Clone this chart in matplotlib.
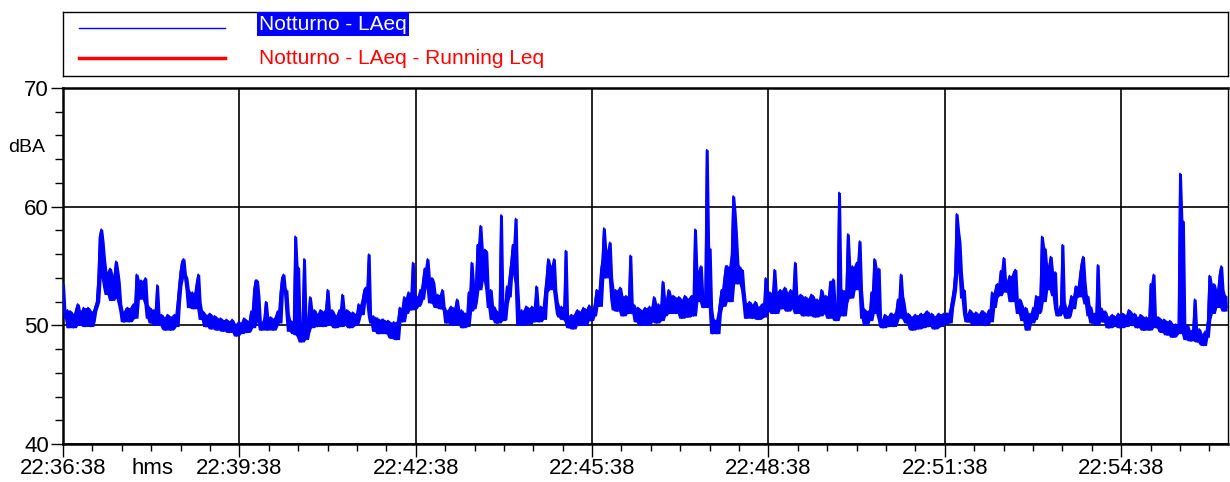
import numpy as np
import pandas as pd
import matplotlib
matplotlib.use("Agg")
import matplotlib.pyplot as plt
from matplotlib.ticker import FixedLocator, MultipleLocator
from matplotlib.lines import Line2D
import matplotlib.transforms as mtransforms

plt.rcParams['font.family'] = ['Liberation Sans', 'DejaVu Sans']

# ---- data: LAeq (dBA), starting 22:36:38 ----
# samples every 3 s (t = 0, 3, 6, ...)
laeq_a = [
    53.5, 50.6, 49.8, 51.0, 50.1, 51.8, 50.4, 51.5, 50.0, 51.3,
    50.4, 51.6, 54.0, 58.1, 55.5, 52.6, 54.8, 52.3, 55.4, 53.6,
    51.2, 50.3, 51.5, 50.5, 51.8, 54.3, 52.2, 53.6, 54.0, 50.6,
    50.2, 51.3, 53.4, 50.0, 50.7, 49.6, 50.8, 49.7, 50.9, 52.0,
    54.6, 55.6, 54.0, 51.5, 52.8, 52.3, 54.3, 50.5, 51.0, 49.9,
    51.0, 50.1, 50.7, 49.9, 50.5, 49.7, 50.4, 49.6, 50.2, 49.1,
    50.3, 49.6, 50.5, 49.5, 51.2, 53.0, 53.8, 50.3, 49.7, 52.0,
    49.8, 50.6, 49.9, 51.2, 52.8, 54.3, 53.0, 49.5, 50.0, 57.5,
    54.9, 48.6, 55.6, 49.4, 52.4, 50.2, 51.0, 50.0, 51.2, 50.3,
    53.0, 50.3, 51.0, 49.9, 51.3, 52.6, 50.1, 51.2, 49.9, 51.0,
    50.4, 51.4, 52.3, 53.2, 56.0, 50.2, 49.5, 50.6, 49.4, 50.5,
    49.3, 50.3, 48.9, 49.9, 50.4, 51.4, 52.4, 51.7, 52.5, 55.3,
    52.5, 51.8, 52.2, 54.8, 55.6, 51.9, 53.6, 51.5, 52.0, 53.0,
    51.3, 50.4, 51.6, 50.2, 52.2, 50.3, 49.8, 51.0, 52.8, 55.3,
    52.0, 56.8, 58.4, 54.2, 56.2, 51.5, 50.5, 51.3, 50.2, 59.3,
    50.5, 53.3, 54.3, 56.8, 59.0, 50.0, 51.3, 50.3, 51.5, 50.5,
    51.0, 53.3, 50.3, 51.4, 52.8, 55.6, 55.0, 55.6, 52.0, 50.7,
    50.5, 56.3, 49.8, 50.9, 50.0, 51.3, 50.3, 51.5, 50.5, 51.7,
    51.3, 52.0, 52.8, 54.6, 58.2, 56.3, 57.0, 52.2, 53.0, 51.3,
    52.5, 51.0, 52.2, 55.9, 51.8, 50.3, 51.4, 50.2, 51.5, 50.0,
    51.0, 52.4, 50.2, 51.2, 53.7, 51.0, 53.0, 51.5, 52.4, 51.2,
    52.2, 51.0, 52.3, 50.8, 52.5, 58.1, 53.4, 55.0, 51.5, 64.8,
    56.5, 49.3, 49.9, 51.0, 53.0, 54.0, 55.0, 52.0, 60.9, 57.5,
    55.0, 54.7, 51.9, 50.8, 51.8, 50.7, 51.6, 50.6, 51.8, 54.0,
    51.5, 52.0, 54.7, 51.5, 53.0, 51.8, 52.8, 51.5, 52.5, 55.3,
    51.5, 52.6, 50.8, 52.3, 51.0, 52.5, 50.7, 51.8, 53.0, 51.0,
    51.5, 53.7, 53.9, 50.4, 61.2, 53.0, 51.9, 57.7, 52.3, 54.3,
    55.3, 57.1, 50.6, 50.0, 51.2, 52.8, 55.6, 51.0, 50.5, 49.8,
    50.8, 49.9, 51.0, 50.2, 52.2, 54.3, 51.9, 50.2, 50.8, 49.6,
    50.9, 49.7, 51.0, 50.1, 51.2, 50.0, 50.8, 49.8, 51.0, 50.2,
    50.1, 51.0, 51.5, 53.0, 59.4, 57.0, 52.3, 51.0, 50.3, 51.1,
    50.0, 51.0, 50.2, 51.2, 50.0, 51.3, 52.8, 52.3, 53.5, 54.6,
    55.7, 52.8, 54.2, 53.3, 54.7, 51.0, 51.8, 50.6, 49.6, 51.0,
    51.5, 52.5, 51.2, 57.5, 56.5, 53.0, 55.8, 52.5, 51.4, 51.0,
    56.8, 51.5, 50.8, 52.5, 52.3, 53.2, 54.3, 55.8, 51.8, 50.8,
    50.2, 51.0, 55.1, 51.5, 50.3, 50.8, 49.8, 50.9, 50.0, 51.0,
    49.8, 50.9, 50.1, 51.2, 50.0, 50.7, 49.9, 50.8, 49.6, 50.5,
    53.5, 54.3, 49.8, 50.6, 49.4, 50.4, 49.2, 50.2, 49.1, 50.0,
    62.8, 58.8, 48.8, 49.6, 48.7, 52.2, 48.6, 49.3, 48.3, 49.0,
    54.2, 51.0, 52.0, 53.0, 55.0, 51.2, 51.5,
]
# samples in between (t = 1.5, 4.5, 7.5, ...)
laeq_b = [
    51.0, 51.3, 51.2, 49.8, 51.4, 50.0, 51.2, 49.9, 51.5, 49.9,
    51.2, 52.0, 57.5, 57.0, 53.2, 54.5, 52.1, 54.2, 54.6, 51.8,
    50.3, 51.4, 50.3, 51.6, 50.6, 53.0, 53.8, 52.4, 51.8, 51.5,
    51.2, 50.0, 51.0, 50.9, 49.7, 50.9, 49.6, 50.8, 49.9, 53.4,
    55.4, 54.3, 53.0, 52.4, 51.4, 53.6, 52.0, 51.2, 49.9, 50.9,
    49.7, 50.8, 49.6, 50.6, 49.5, 50.5, 49.4, 50.5, 49.5, 50.2,
    49.3, 50.6, 49.4, 50.4, 49.8, 53.8, 52.5, 49.6, 50.6, 49.6,
    50.7, 49.6, 50.8, 50.2, 54.0, 52.8, 51.0, 50.4, 49.3, 49.2,
    49.0, 50.2, 48.8, 50.6, 49.8, 51.3, 49.9, 51.3, 49.9, 51.4,
    50.0, 51.3, 49.8, 50.9, 49.9, 50.0, 51.3, 49.8, 51.1, 50.0,
    51.8, 50.9, 53.0, 52.0, 50.8, 50.8, 50.6, 49.3, 50.5, 49.4,
    50.4, 49.0, 50.3, 48.8, 51.5, 50.3, 51.0, 52.8, 51.3, 51.4,
    51.6, 53.0, 53.8, 53.2, 53.6, 54.0, 51.8, 52.6, 51.4, 51.6,
    50.2, 51.4, 50.0, 51.5, 50.1, 51.3, 51.0, 49.9, 51.2, 51.4,
    53.5, 53.0, 53.8, 56.4, 53.0, 53.0, 51.6, 50.2, 51.2, 50.4,
    51.8, 52.4, 55.4, 55.5, 53.5, 50.8, 50.0, 51.6, 50.1, 51.6,
    50.3, 51.0, 51.6, 50.5, 54.0, 53.0, 53.5, 53.0, 51.0, 51.6,
    50.8, 50.3, 50.8, 49.7, 51.1, 50.0, 51.2, 50.0, 51.4, 50.4,
    50.8, 53.0, 51.6, 55.5, 54.0, 54.2, 54.0, 51.3, 51.2, 53.2,
    50.8, 52.5, 51.0, 51.0, 51.0, 51.5, 50.0, 51.3, 50.2, 51.6,
    50.3, 50.6, 51.8, 50.4, 50.8, 52.2, 51.0, 52.5, 51.0, 52.4,
    50.6, 52.5, 50.7, 52.4, 50.8, 52.0, 54.6, 52.0, 52.5, 54.0,
    51.5, 50.5, 49.3, 52.0, 51.6, 55.0, 53.0, 56.0, 59.5, 53.5,
    53.5, 53.0, 50.6, 52.0, 50.6, 52.0, 50.5, 51.7, 50.7, 51.2,
    52.8, 51.0, 51.0, 52.8, 51.4, 53.2, 51.2, 53.0, 51.4, 51.0,
    52.5, 51.0, 52.4, 50.8, 52.6, 51.0, 52.2, 50.8, 51.2, 52.5,
    50.6, 51.2, 51.0, 51.8, 51.0, 50.8, 53.0, 52.5, 55.0, 53.0,
    54.5, 53.0, 51.4, 51.0, 50.4, 51.8, 53.5, 54.8, 49.9, 50.9,
    50.0, 51.0, 49.9, 51.2, 50.6, 52.5, 50.5, 51.0, 49.7, 50.8,
    49.8, 50.9, 49.8, 51.1, 49.9, 51.0, 49.7, 50.9, 49.9, 51.0,
    51.0, 50.2, 52.2, 54.5, 58.0, 54.5, 53.0, 50.3, 51.3, 50.2,
    51.1, 50.1, 51.2, 50.0, 51.0, 50.3, 51.5, 53.4, 52.5, 53.8,
    53.8, 53.5, 52.0, 54.5, 52.0, 52.2, 50.4, 51.5, 50.6, 50.2,
    50.5, 51.0, 52.5, 52.0, 54.0, 55.0, 53.5, 54.5, 50.8, 51.8,
    52.0, 50.6, 51.8, 51.4, 53.3, 52.4, 55.2, 53.8, 52.5, 51.6,
    50.9, 50.0, 51.2, 50.3, 51.2, 49.8, 50.8, 49.9, 50.8, 49.8,
    51.0, 49.9, 51.3, 50.0, 51.0, 49.8, 50.9, 49.6, 50.7, 49.6,
    50.0, 50.2, 50.7, 49.5, 50.5, 49.2, 50.4, 49.0, 50.1, 49.3,
    50.2, 49.5, 50.0, 48.7, 49.7, 49.0, 49.7, 48.4, 49.5, 50.5,
    52.5, 53.5, 51.5, 54.3, 53.0, 52.5,
]
t_a = np.arange(len(laeq_a)) * 3.0
t_b = np.arange(len(laeq_b)) * 3.0 + 1.5
t_seconds = np.concatenate([t_a, t_b])
laeq = np.concatenate([laeq_a, laeq_b])
order = np.argsort(t_seconds)
t_seconds, laeq = t_seconds[order], laeq[order]

# the dense trace reads as a ribbon: span of neighbouring samples
ser = pd.Series(laeq)
band_lo = ser.rolling(5, center=True, min_periods=1).min().to_numpy()
band_hi = ser.rolling(3, center=True, min_periods=1).max().to_numpy()

x_major_ticks = [0, 180, 360, 540, 720, 900, 1080]
x_major_labels = ["22:36:38", "22:39:38", "22:42:38", "22:45:38",
                  "22:48:38", "22:51:38", "22:54:38"]
y_major_ticks = [40, 50, 60, 70]
legend_labels = ["Notturno - LAeq", "Notturno - LAeq - Running Leq"]

W, H = 1230, 482
fig = plt.figure(figsize=(W / 100, H / 100), dpi=100)

# main axes
L, R, T, B = 63, 1228, 88, 444
ax = fig.add_axes([L / W, 1 - B / H, (R - L) / W, (B - T) / H])
ax.fill_between(t_seconds, band_lo, band_hi, color='#0000FF', lw=0, zorder=3)
ax.plot(t_seconds, laeq, color='#0000FF', lw=1.2, zorder=3)
ax.set_xlim(0, 1189)
ax.set_ylim(40, 70)

ax.xaxis.set_major_locator(FixedLocator(x_major_ticks))
ax.set_xticklabels(x_major_labels)
ax.xaxis.set_minor_locator(MultipleLocator(30))
ax.yaxis.set_major_locator(FixedLocator(y_major_ticks))
ax.yaxis.set_minor_locator(MultipleLocator(2))

ax.grid(which='major', color='black', lw=1.2, zorder=1)
for s in ax.spines.values():
    s.set_linewidth(1.8)
    s.set_color('black')
ax.spines['right'].set_linewidth(1.0)

ax.tick_params(axis='both', which='major', direction='out', length=9,
               width=1, labelsize=16, pad=1, colors='black')
ax.tick_params(axis='y', which='minor', direction='out', length=6, width=1)
ax.tick_params(axis='x', which='minor', direction='out', length=5, width=1)

trans = mtransforms.blended_transform_factory(ax.transData, ax.transAxes)
trans = trans + mtransforms.ScaledTranslation(0, -10 / 72, fig.dpi_scale_trans)
ax.text(91, 0, "hms", transform=trans, ha='center', va='top', fontsize=16)

fig.text(8 / W, 1 - 148 / H, "dBA", ha='left', va='center', fontsize=14)

# legend box
lt, lb = 12, 76
lax = fig.add_axes([L / W, 1 - lb / H, (R - L) / W, (lb - lt) / H])
lax.set_xlim(L, R)
lax.set_ylim(lb, lt)
lax.set_xticks([])
lax.set_yticks([])
for s in lax.spines.values():
    s.set_linewidth(1.0)
    s.set_color('black')
lax.add_line(Line2D([79, 225], [28, 28], color='#0000FF', lw=1.0))
lax.add_line(Line2D([79, 225], [58, 58], color='#FF0000', lw=2.5))
lax.text(259, 24, legend_labels[0], color='white', fontsize=15, ha='left',
         va='center', bbox=dict(facecolor='#0000FF', edgecolor='none', pad=1.5))
lax.text(259, 58, legend_labels[1], color='#FF0000', fontsize=15, ha='left',
         va='center')

fig.savefig("out.png", dpi=100)
